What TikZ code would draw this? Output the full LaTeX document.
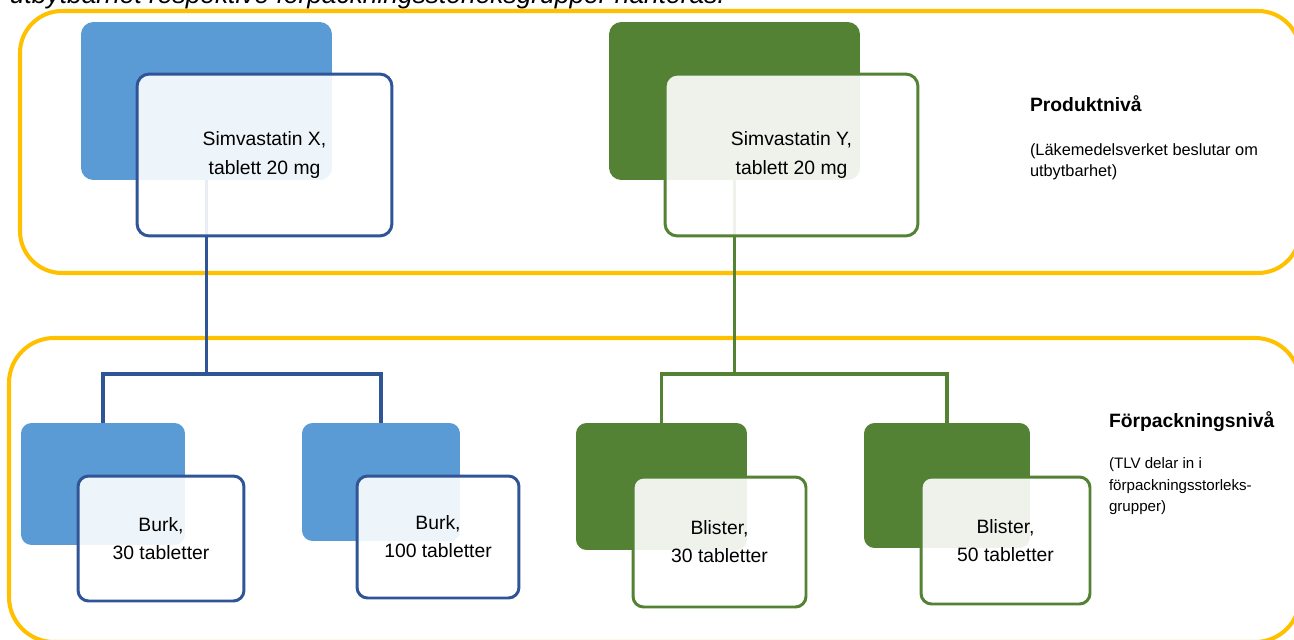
\documentclass[tikz,border=0pt]{standalone}
\usepackage{fontspec}
\setmainfont{Liberation Sans}
\definecolor{prodblue}{HTML}{5B9BD5}
\definecolor{prodblueline}{HTML}{2F5597}
\definecolor{prodgreen}{HTML}{548235}
\definecolor{levelyellow}{HTML}{FFC000}
\begin{document}
\begin{tikzpicture}[
  x=0.02cm, y=-0.02cm,
  every node/.style = {shape=rectangle, inner sep=0pt, outer sep=0pt, align=center,
                       font=\fontsize{11}{16}\selectfont},
  boxsize/.style 2 args = {minimum width=#1, minimum height=#2},
  levelframe/.style = {draw=levelyellow, line width=2.3pt},
  backbox/.style = {rounded corners=7pt, fill=#1},
  frontbox/.style = {rounded corners=7pt, draw=#1, line width=1.7pt,
                     fill=white, fill opacity=0.9, text opacity=1},
  link/.style = {draw=#1, line width=2pt},
  leveltitle/.style = {anchor=base west, align=left,
                       font=\bfseries\fontsize{11}{14}\selectfont},
  levelnote/.style = {anchor=north west, align=left}
]
  \useasboundingbox (0,0) rectangle (1294,639);

  \node[anchor=base west, font=\itshape\fontsize{15}{18}\selectfont] (caption) at (10,4)
    {utbytbarhet respektive förpackningsstorleksgrupper hanteras.};

  \draw[levelframe, rounded corners=0.84cm] (20,11) rectangle (1300,273);
  \draw[levelframe, rounded corners=0.9cm] (9,338) rectangle (1300,642);

  \node[backbox=prodblue, boxsize={5.02cm}{3.16cm}] (simxback) at (206.5,101) {};
  \node[backbox=prodgreen, boxsize={5.02cm}{3.16cm}] (simyback) at (734.5,101) {};
  \node[backbox=prodblue, rounded corners=6pt, boxsize={3.28cm}{2.44cm}] (burk30back) at (103,484) {};
  \node[backbox=prodblue, rounded corners=6pt, boxsize={3.16cm}{2.36cm}] (burk100back) at (381,482) {};
  \node[backbox=prodgreen, rounded corners=6pt, boxsize={3.42cm}{2.54cm}] (blister30back) at (661.5,486.5) {};
  \node[backbox=prodgreen, rounded corners=6pt, boxsize={3.32cm}{2.5cm}] (blister50back) at (947,485.5) {};

  \coordinate (xsplit) at (206.5,374);
  \coordinate (ysplit) at (734.5,374);
  \draw[link=prodblueline] (simxback.south) -- (xsplit) -| (burk30back.north);
  \draw[link=prodblueline] (xsplit) -| (burk100back.north);
  \draw[link=prodgreen] (simyback.south) -- (ysplit) -| (blister30back.north);
  \draw[link=prodgreen] (ysplit) -| (blister50back.north);

  \node[frontbox=prodblueline, boxsize={5.1cm}{3.24cm}] (simx) at (264.5,155)
    {Simvastatin X,\\tablett 20 mg};
  \node[frontbox=prodgreen, boxsize={5.06cm}{3.24cm}] (simy) at (791.5,155)
    {Simvastatin Y,\\tablett 20 mg};
  \node[frontbox=prodblueline, rounded corners=6pt, boxsize={3.32cm}{2.5cm}] (burk30) at (161,538.5)
    {Burk,\\30 tabletter};
  \node[frontbox=prodblueline, rounded corners=6pt, boxsize={3.24cm}{2.44cm}] (burk100) at (438,537)
    {Burk,\\100 tabletter};
  \node[frontbox=prodgreen, rounded corners=6pt, boxsize={3.46cm}{2.6cm}] (blister30) at (719.5,542)
    {Blister,\\30 tabletter};
  \node[frontbox=prodgreen, rounded corners=6pt, boxsize={3.38cm}{2.54cm}] (blister50) at (1005.5,540.5)
    {Blister,\\50 tabletter};

  \node[leveltitle] (prodtitle) at (1030,111) {Produktnivå};
  \node[levelnote, font=\fontsize{9.3}{12}\selectfont] (prodnote) at (1030,144)
    {(Läkemedelsverket beslutar om\\utbytbarhet)};
  \node[leveltitle] (packtitle) at (1109,427) {Förpackningsnivå};
  \node[levelnote, font=\fontsize{8.6}{12}\selectfont] (packnote) at (1109,458)
    {(TLV delar in i\\förpackningsstorleks-\\grupper)};
\end{tikzpicture}
\end{document}
